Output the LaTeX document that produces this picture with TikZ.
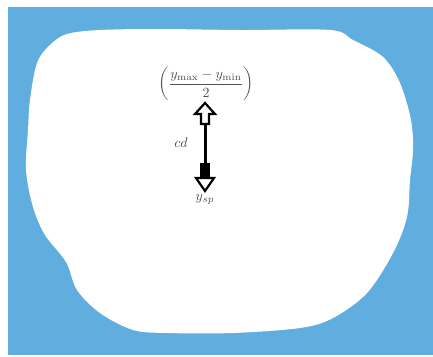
\documentclass[tikz,border=0pt]{standalone}
\usepackage{amsmath}
\definecolor{bgblue}{RGB}{96,173,224}
\definecolor{txtgray}{RGB}{80,80,80}
\begin{document}
\begin{tikzpicture}[x=1pt,y=-1pt,
  lbl/.style={inner sep=0pt,text=txtgray,scale=1.4},
  headup/.style={draw=black,line width=2.2pt,fill=white,line join=miter}]
\useasboundingbox (0,0) rectangle (433,356);
\fill[white] (0,0) rectangle (433,356);
\fill[bgblue] (8,7) rectangle (433,355);
\fill[white] plot[smooth cycle,tension=0.55] coordinates {
 (37,63) (50,45) (67,34) (100,30) (160,29) (240,30) (330,30) (353,40)
 (383,57) (400,83) (411,120) (413,150) (410,180) (407,217) (393,253)
 (367,293) (333,318) (300,328) (233,333) (167,333) (133,330) (100,313)
 (77,290) (66,262) (45,235) (33,207) (26,170) (28,130) (30,100)};
\node[lbl] (frac) at (206,84) {$\left(\dfrac{y_{\max}-y_{\min}}{2}\right)$};
\node[lbl] (cd) at (181,143) {$cd$};
\node[lbl] (ysp) at (205,199) {$y_{sp}$};
\coordinate (top) at (205,103);
\coordinate (bot) at (205,191);
\draw[line width=3pt] (205,122) -- (205,166);
\draw[headup] (top) -- (215,114) -- (209,114) -- (209,124) -- (201,124) -- (201,114) -- (195,114) -- cycle;
\fill[black] (200,163) rectangle (210,178);
\draw[headup] (196,178) -- (214,178) -- (bot) -- cycle;
\end{tikzpicture}
\end{document}
